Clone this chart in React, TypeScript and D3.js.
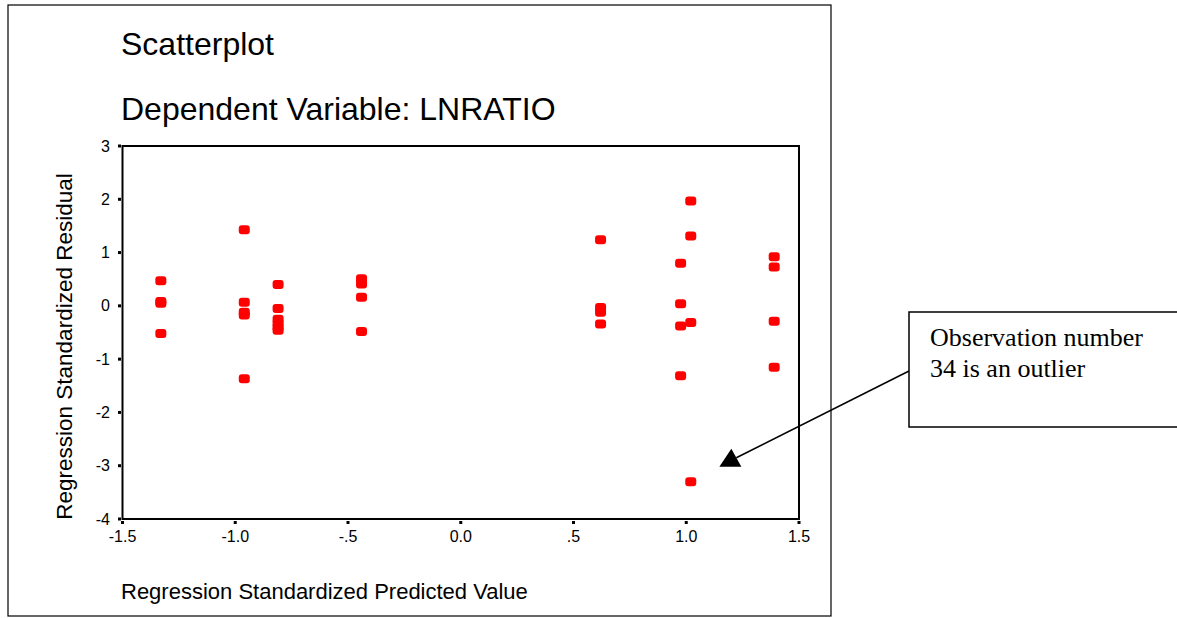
import * as d3 from "d3";

// predicted (x) and residual (y) for each case
const predicted = [
  -1.33, -1.33, -1.33, -1.33,
  -0.96, -0.96, -0.96, -0.96, -0.96,
  -0.81, -0.81, -0.81, -0.81, -0.81, -0.81,
  -0.44, -0.44, -0.44, -0.44,
  0.62, 0.62, 0.62, 0.62,
  0.975, 0.975, 0.975, 0.975,
  1.02, 1.02, 1.02, 1.02,
  1.39, 1.39, 1.39, 1.39,
];
const residual = [
  0.47, 0.08, 0.05, -0.52,
  1.43, 0.07, -0.12, -0.17, -1.37,
  0.4, -0.05, -0.25, -0.33, -0.4, -0.46,
  0.51, 0.41, 0.16, -0.48,
  1.24, -0.03, -0.12, -0.34,
  0.8, 0.04, -0.38, -1.31,
  1.97, 1.31, -0.31, -3.3,
  0.92, 0.73, -0.29, -1.15,
];

const xTicks = [-1.5, -1.0, -0.5, 0.0, 0.5, 1.0, 1.5];
const xTickLabels = ["-1.5", "-1.0", "-.5", "0.0", ".5", "1.0", "1.5"];
const yTicks = [3, 2, 1, 0, -1, -2, -3, -4];

const title = "Scatterplot";
const subtitle = "Dependent Variable: LNRATIO";
const xTitle = "Regression Standardized Predicted Value";
const yTitle = "Regression Standardized Residual";
const noteLines = ["Observation number", "34 is an outlier"];
const notePoint = [1.2, -3.0];

const sans = "'Liberation Sans', Arial, sans-serif";
const serif = "'Liberation Serif', 'Times New Roman', serif";

export default function App() {
  const width = 1177;
  const height = 618;
  const plot = { left: 122.5, right: 799, top: 146, bottom: 519 };

  const x = d3.scaleLinear().domain([-1.5, 1.5]).range([plot.left, plot.right]);
  const y = d3.scaleLinear().domain([-4, 3]).range([plot.bottom, plot.top]);

  const pts = predicted.map((p, i) => ({ p, r: residual[i] }));

  // annotation arrow head sits near the outlier
  const tipX = x(notePoint[0]);
  const tipY = y(notePoint[1]);
  const tri = [
    [tipX - 12, tipY + 1],
    [tipX + 10, tipY + 1],
    [tipX, tipY - 17],
  ];

  return (
    <svg
      width={width}
      height={height}
      style={{ position: "absolute", left: 0, top: 0, background: "#fff" }}
    >
      <rect x={8} y={5} width={823} height={611} fill="none" stroke="#000" strokeWidth={1.2} />

      <text x={121} y={55} fontFamily={sans} fontSize={32}>{title}</text>
      <text x={121} y={120} fontFamily={sans} fontSize={32}>{subtitle}</text>

      <rect
        x={plot.left}
        y={plot.top}
        width={plot.right - plot.left}
        height={plot.bottom - plot.top}
        fill="none"
        stroke="#000"
        strokeWidth={2}
      />

      {yTicks.map((t) => (
        <g key={"y" + t}>
          <rect x={plot.left - 4.5} y={y(t) - 1.5} width={3} height={3} fill="#000" />
          <text
            x={110}
            y={y(t)}
            dy="0.35em"
            textAnchor="end"
            fontFamily={sans}
            fontSize={16}
          >
            {t}
          </text>
        </g>
      ))}

      {xTicks.map((t, i) => (
        <g key={"x" + t}>
          <rect x={x(t) - 1.5} y={plot.bottom + 2} width={3} height={3} fill="#000" />
          <text x={x(t)} y={542} textAnchor="middle" fontFamily={sans} fontSize={16}>
            {xTickLabels[i]}
          </text>
        </g>
      ))}

      <text x={121} y={599} fontFamily={sans} fontSize={22}>{xTitle}</text>
      <text
        transform={`translate(72,${(plot.top + plot.bottom) / 2 + 14}) rotate(-90)`}
        textAnchor="middle"
        fontFamily={sans}
        fontSize={22.5}
      >
        {yTitle}
      </text>

      {pts.map((d, i) => (
        <rect
          key={i}
          x={x(d.p) - 5.5}
          y={y(d.r) - 4.5}
          width={11}
          height={9}
          rx={3}
          fill="#ff0000"
        />
      ))}

      <rect x={909} y={312} width={300} height={115} fill="#fff" stroke="#000" strokeWidth={1.5} />
      {noteLines.map((s, i) => (
        <text key={i} x={930} y={346 + i * 31} fontFamily={serif} fontSize={26}>
          {s}
        </text>
      ))}

      <line x1={909} y1={371} x2={tipX + 5} y2={tipY - 8} stroke="#000" strokeWidth={1.5} />
      <polygon points={tri.map((p) => p.join(",")).join(" ")} fill="#000" />
    </svg>
  );
}
